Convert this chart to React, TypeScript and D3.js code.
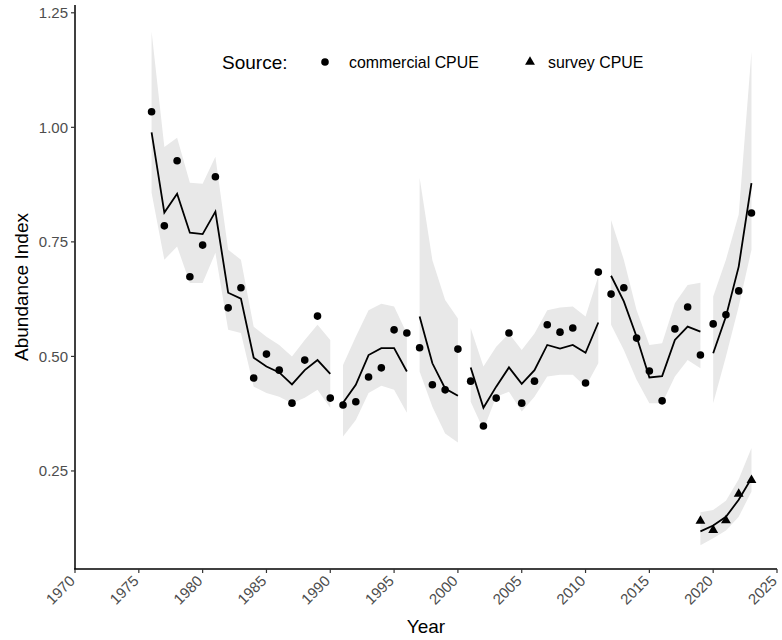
import React from "react";
import * as d3 from "d3";

// commercial CPUE, one entry per year
const years = [
  1976, 1977, 1978, 1979, 1980, 1981, 1982, 1983, 1984, 1985, 1986, 1987, 1988, 1989, 1990,
  1991, 1992, 1993, 1994, 1995, 1996,
  1997, 1998, 1999, 2000,
  2001, 2002, 2003, 2004, 2005, 2006, 2007, 2008, 2009, 2010, 2011,
  2012, 2013, 2014, 2015, 2016, 2017, 2018, 2019,
  2020, 2021, 2022, 2023,
];
// fitted blocks start at these years
const blockStarts = [1976, 1991, 1997, 2001, 2012, 2020];

const commObs = [
  1.034, 0.785, 0.927, 0.674, 0.743, 0.892, 0.606, 0.65, 0.453, 0.505, 0.47, 0.398, 0.492, 0.588, 0.409,
  0.394, 0.401, 0.455, 0.475, 0.558, 0.551,
  0.519, 0.438, 0.427, 0.516,
  0.446, 0.348, 0.409, 0.551, 0.398, 0.446, 0.569, 0.553, 0.562, 0.442, 0.684,
  0.636, 0.65, 0.54, 0.468, 0.403, 0.56, 0.608, 0.503,
  0.571, 0.591, 0.643, 0.813,
];
const commFit = [
  0.989, 0.814, 0.855, 0.77, 0.767, 0.816, 0.639, 0.626, 0.497, 0.478, 0.465, 0.439, 0.47, 0.492, 0.462,
  0.399, 0.438, 0.503, 0.518, 0.518, 0.467,
  0.587, 0.485, 0.43, 0.414,
  0.476, 0.388, 0.434, 0.476, 0.44, 0.47, 0.525, 0.517, 0.525, 0.508, 0.574,
  0.676, 0.62, 0.543, 0.454, 0.457, 0.536, 0.565, 0.554,
  0.507, 0.587, 0.696, 0.878,
];
const commLo = [
  0.857, 0.711, 0.74, 0.66, 0.66, 0.726, 0.558, 0.551, 0.434, 0.42, 0.412, 0.398, 0.41, 0.427, 0.388,
  0.325, 0.361, 0.42, 0.436, 0.427, 0.377,
  0.467, 0.39, 0.332, 0.312,
  0.401, 0.34, 0.412, 0.423, 0.38, 0.412, 0.456, 0.46, 0.46, 0.434, 0.485,
  0.569, 0.514, 0.449, 0.398, 0.398, 0.456, 0.492, 0.474,
  0.398, 0.5, 0.609, 0.733,
];
const commHi = [
  1.209, 0.957, 0.977, 0.879, 0.877, 0.936, 0.733, 0.711, 0.565, 0.543, 0.525, 0.5, 0.536, 0.569, 0.536,
  0.481, 0.543, 0.601, 0.615, 0.609, 0.55,
  0.89, 0.71, 0.623, 0.583,
  0.562, 0.478, 0.521, 0.55, 0.514, 0.55, 0.601, 0.607, 0.609, 0.587, 0.675,
  0.798, 0.711, 0.601, 0.525, 0.529, 0.616, 0.656, 0.661,
  0.631, 0.711, 0.81, 1.165,
];

// survey CPUE
const surveyYears = [2019, 2020, 2021, 2022, 2023];
const surveyObs = [0.141, 0.121, 0.142, 0.2, 0.23];
const surveyFit = [0.118, 0.131, 0.15, 0.187, 0.234];
const surveyLo = [0.088, 0.103, 0.12, 0.15, 0.205];
const surveyHi = [0.16, 0.165, 0.185, 0.232, 0.3];

const xTicks = [1970, 1975, 1980, 1985, 1990, 1995, 2000, 2005, 2010, 2015, 2020, 2025];
const yTicks = [0.25, 0.5, 0.75, 1.0, 1.25];

const FONT = "'Liberation Sans', Arial, Helvetica, sans-serif";
const RIBBON = "#e8e8e8";

const W = 782;
const H = 640;
const m = { left: 75, right: 5, top: 5, bottom: 71 };

type Row = { year: number; obs: number; fit: number; lo: number; hi: number };

const App = () => {
  const x = d3.scaleLinear().domain([1970, 2025]).range([m.left, W - m.right]);
  const y = d3.scaleLinear().domain([0.036, 1.267]).range([H - m.bottom, m.top]);

  const rows: Row[] = years.map((yr, i) => ({
    year: yr, obs: commObs[i], fit: commFit[i], lo: commLo[i], hi: commHi[i],
  }));
  const blockOf = (yr: number) => d3.bisectRight(blockStarts, yr) - 1;
  const blocks = d3.groups(rows, (r) => blockOf(r.year)).map((g) => g[1]);

  const surveyRows: Row[] = surveyYears.map((yr, i) => ({
    year: yr, obs: surveyObs[i], fit: surveyFit[i], lo: surveyLo[i], hi: surveyHi[i],
  }));

  const area = d3.area<Row>().x((d) => x(d.year)).y0((d) => y(d.lo)).y1((d) => y(d.hi));
  const line = d3.line<Row>().x((d) => x(d.year)).y((d) => y(d.fit));
  const tri = d3.symbol().type(d3.symbolTriangle).size(42)();

  const x0 = m.left;
  const y0 = H - m.bottom;

  return (
    <svg width={W} height={H} style={{ position: "absolute", left: 0, top: 0 }} fontFamily={FONT}>
      <rect width={W} height={H} fill="#fff" />

      {/* ribbons */}
      {blocks.map((b, i) => (
        <path key={"r" + i} d={area(b)!} fill={RIBBON} />
      ))}
      <path d={area(surveyRows)!} fill={RIBBON} />

      {/* fitted lines */}
      {blocks.map((b, i) => (
        <path key={"l" + i} d={line(b)!} fill="none" stroke="#000" strokeWidth={1.8} />
      ))}
      <path d={line(surveyRows)!} fill="none" stroke="#000" strokeWidth={1.8} />

      {/* observations */}
      {rows.map((d, i) => (
        <circle key={"p" + i} cx={x(d.year)} cy={y(d.obs)} r={3.8} fill="#000" />
      ))}
      {surveyRows.map((d, i) => (
        <path key={"t" + i} d={tri!} transform={`translate(${x(d.year)},${y(d.obs)})`} fill="#000" />
      ))}

      {/* axes */}
      <line x1={x0} x2={x0} y1={m.top} y2={y0 + 0.75} stroke="#000" strokeWidth={1.5} />
      <line x1={x0 - 0.75} x2={W - m.right} y1={y0} y2={y0} stroke="#000" strokeWidth={1.5} />
      {yTicks.map((t) => (
        <g key={"yt" + t} transform={`translate(0,${y(t)})`}>
          <line x1={x0 - 4} x2={x0} stroke="#333" strokeWidth={1.2} />
          <text x={x0 - 7} dy="0.35em" textAnchor="end" fontSize={15} fill="#4d4d4d">
            {d3.format(".2f")(t)}
          </text>
        </g>
      ))}
      {xTicks.map((t) => (
        <g key={"xt" + t} transform={`translate(${x(t)},${y0})`}>
          <line y1={0} y2={4} stroke="#333" strokeWidth={1.2} />
          <text
            transform="translate(-5,7) rotate(-45)"
            dy="0.55em"
            textAnchor="end"
            fontSize={15}
            fill="#4d4d4d"
          >
            {t}
          </text>
        </g>
      ))}

      <text x={(x0 + W - m.right) / 2} y={633} textAnchor="middle" fontSize={19} fill="#000">
        Year
      </text>
      <text
        transform={`translate(28,${(m.top + y0) / 2}) rotate(-90)`}
        textAnchor="middle"
        fontSize={19}
        fill="#000"
      >
        Abundance Index
      </text>

      {/* legend */}
      <g transform="translate(222,62)">
        <text x={0} dy="0.35em" fontSize={19} fill="#000">Source:</text>
        <circle cx={103} cy={0} r={3.8} fill="#000" />
        <text x={127} dy="0.35em" fontSize={15.9} fill="#000">commercial CPUE</text>
        <path d={tri!} transform="translate(308,0)" fill="#000" />
        <text x={326} dy="0.35em" fontSize={15.9} fill="#000">survey CPUE</text>
      </g>
    </svg>
  );
};

export default App;
